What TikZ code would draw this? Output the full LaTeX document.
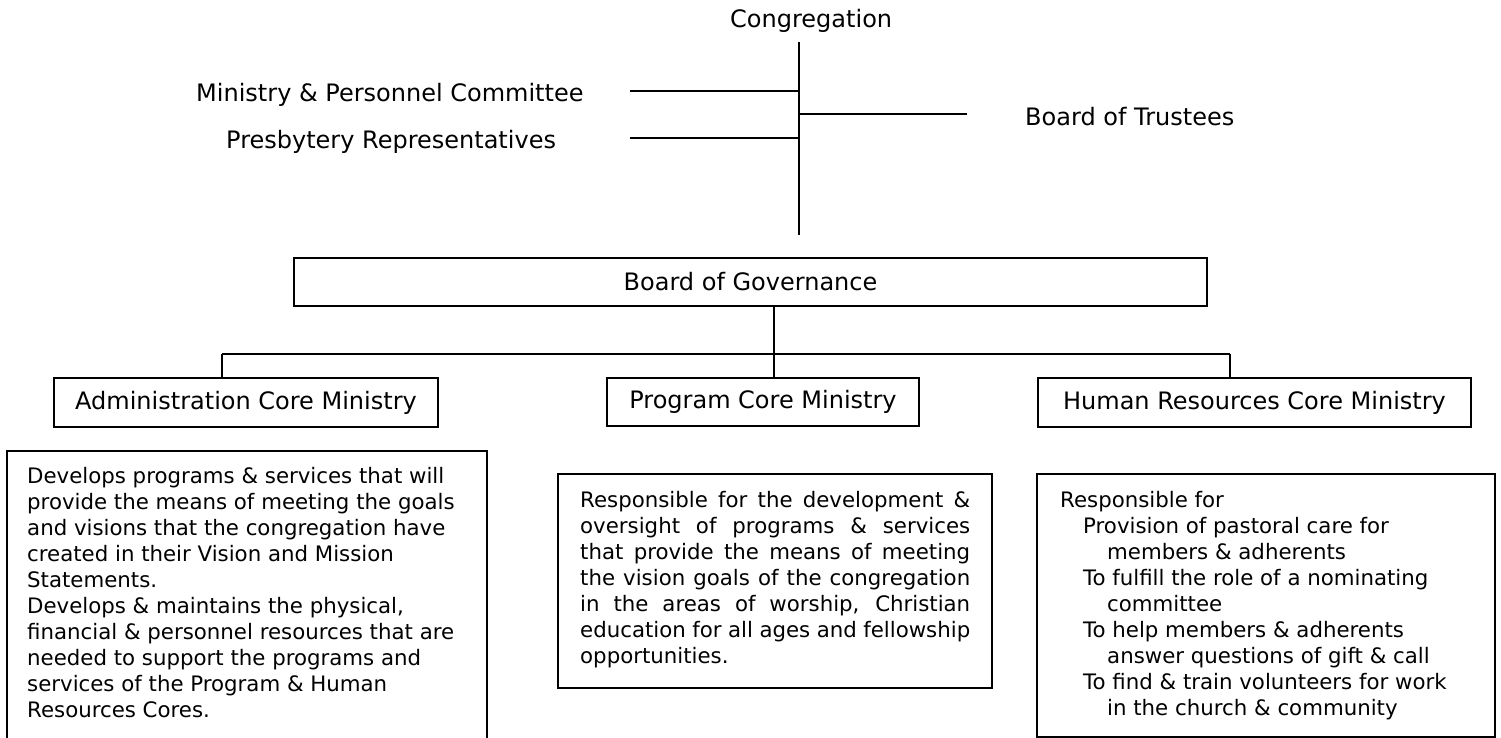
\documentclass[tikz,border=0pt]{standalone}
\usepackage{fontspec}
\setmainfont{DejaVu Sans}
\begin{document}
\begin{tikzpicture}[x=1pt,y=-1pt,
  line/.style={line width=1.4pt},
  box/.style={draw, line width=1.4pt, inner sep=0pt, outer sep=0pt},
  lbl/.style={font=\fontsize{24}{29}\selectfont, inner sep=0pt},
  desc/.style={font=\fontsize{21.3}{26}\selectfont, inner sep=0pt, align=left, anchor=north west}]
\useasboundingbox (0,0) rectangle (1501,738);
% top labels
\node[lbl, anchor=base west] (cong) at (730,28) {Congregation};
\node[lbl, anchor=base west] (mpc) at (196,102) {Ministry \& Personnel Committee};
\node[lbl, anchor=base west] (pres) at (226,149) {Presbytery Representatives};
\node[lbl, anchor=base west] (bot) at (1025,126) {Board of Trustees};
% spine
\coordinate (spT) at (799,42);
\coordinate (spB) at (799,235);
\coordinate (mpcE) at (630,91);
\coordinate (presE) at (630,138);
\coordinate (botE) at (967,114);
\draw[line] (spT) -- (spB);
\draw[line] (mpcE) -- (mpcE -| spT);
\draw[line] (presE) -- (presE -| spT);
\draw[line] (botE -| spT) -- (botE);
% board of governance
\node[box, lbl, minimum width=913pt, minimum height=48pt] (bog) at (750.5,282) {Board of Governance};
% core ministries
\node[box, lbl, minimum width=384pt, minimum height=49pt] (adm) at (246,402.5) {Administration Core Ministry};
\node[box, lbl, minimum width=312pt, minimum height=48pt] (prog) at (763,402) {Program Core Ministry};
\node[box, lbl, minimum width=433pt, minimum height=49pt] (hr) at (1254.5,402.5) {Human Resources Core Ministry};
% bus
\coordinate (busC) at (774,354);
\coordinate (busL) at (222,354);
\coordinate (busR) at (1230,354);
\draw[line] (busC |- bog.south) -- (busC);
\draw[line] (busL) -- (busR);
\draw[line] (busL) -- (busL |- adm.north);
\draw[line] (busC) -- (busC |- prog.north);
\draw[line] (busR) -- (busR |- hr.north);
% description boxes
\node[box, minimum width=480pt, minimum height=294pt] (admd) at (247,598) {};
\node[box, minimum width=434pt, minimum height=214pt] (progd) at (775,581) {};
\node[box, minimum width=458pt, minimum height=263pt] (hrd) at (1266,605.5) {};
\node[desc] (admt) at (27,467) {Develops programs \& services that will\\
provide the means of meeting the goals\\
and visions that the congregation have\\
created in their Vision and Mission\\
Statements.\\
Develops \& maintains the physical,\\
financial \& personnel resources that are\\
needed to support the programs and\\
services of the Program \& Human\\
Resources Cores.};
\node[desc] (progt) at (580,491) {\makebox[390pt][s]{Responsible for the development \&}\\
\makebox[390pt][s]{oversight of programs \& services}\\
\makebox[390pt][s]{that provide the means of meeting}\\
\makebox[390pt][s]{the vision goals of the congregation}\\
\makebox[390pt][s]{in the areas of worship, Christian}\\
\makebox[390pt][s]{education for all ages and fellowship}\\
opportunities.};
\node[desc] (hrt) at (1060,491) {Responsible for\\
\hspace*{23pt}Provision of pastoral care for\\
\hspace*{47pt}members \& adherents\\
\hspace*{23pt}To fulfill the role of a nominating\\
\hspace*{47pt}committee\\
\hspace*{23pt}To help members \& adherents\\
\hspace*{47pt}answer questions of gift \& call\\
\hspace*{23pt}To find \& train volunteers for work\\
\hspace*{47pt}in the church \& community};
\end{tikzpicture}
\end{document}
